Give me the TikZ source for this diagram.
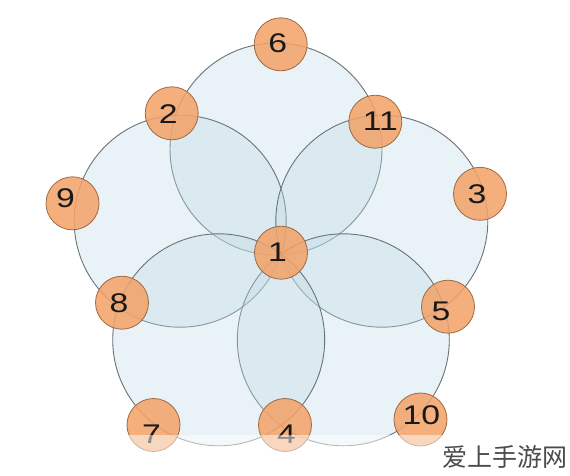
\documentclass[tikz,border=0pt]{standalone}
\usepackage{fontspec}
\usetikzlibrary{calc}
\setmainfont{Liberation Sans}
\newfontfamily\cjk{Noto Sans CJK SC}
\definecolor{petal}{RGB}{192,219,231}
\definecolor{petalline}{RGB}{105,115,120}
\definecolor{dotfill}{RGB}{243,162,104}
\definecolor{dotline}{RGB}{150,95,55}
\definecolor{wm}{RGB}{75,75,75}
\newcommand{\digtxt}[1]{\scalebox{1.25}[1]{#1}}
\tikzset{
  petalcircle/.style={fill=petal, fill opacity=0.34, draw=petalline, draw opacity=1, line width=0.9pt},
  numdot/.style={circle, minimum size=53pt, inner sep=0pt, fill=dotfill, fill opacity=0.86,
    draw=dotline, draw opacity=0.9, line width=0.8pt},
  numtext/.style={inner sep=0pt, text=black!90, font=\fontsize{27}{27}\selectfont},
}
\begin{document}
\begin{tikzpicture}[x=1pt,y=-1pt]
\useasboundingbox (0,0) rectangle (570,475);
\fill[white] (0,0) rectangle (570,475);
% circle centres
\coordinate (cT) at (276,149);
\coordinate (cUL) at (180.2,221.2);
\coordinate (cUR) at (381.8,221.2);
\coordinate (cLR) at (343.3,339.8);
\coordinate (cLL) at (218.7,339.8);
\foreach \c in {cT,cUL,cUR,cLR,cLL}{
  \path[petalcircle] (\c) circle [radius=106pt];
}
% numbered discs
\node[numdot] (n6) at (280.7,44.3) {};
\node[numdot] (n2) at (171.7,113.3) {};
\node[numdot] (n11) at (375.3,121.7) {};
\node[numdot] (n9) at (72.5,203.3) {};
\node[numdot] (n3) at (480,193.8) {};
\node[numdot] (n1) at (281,252.7) {};
\node[numdot] (n8) at (122,302.7) {};
\node[numdot] (n5) at (448,306.7) {};
\node[numdot] (n7) at (153.5,425) {};
\node[numdot] (n4) at (285,425) {};
\node[numdot] (n10) at (420.5,419.5) {};
% their numbers
\node[numtext] (t6) at ($(n6)+(-3,-1)$) {\digtxt{6}};
\node[numtext] (t2) at ($(n2)+(-3.5,0.5)$) {\digtxt{2}};
\node[numtext] (t11) at ($(n11)+(5,0)$) {\digtxt{11}};
\node[numtext] (t9) at ($(n9)+(-7,-5)$) {\digtxt{9}};
\node[numtext] (t3) at ($(n3)+(-3,0)$) {\digtxt{3}};
\node[numtext] (t1) at ($(n1)+(-3.5,0)$) {\digtxt{1}};
\node[numtext] (t8) at ($(n8)+(-3,0)$) {\digtxt{8}};
\node[numtext] (t5) at ($(n5)+(-7,5)$) {\digtxt{5}};
\node[numtext] (t7) at ($(n7)+(-2,9)$) {\digtxt{7}};
\node[numtext] (t4) at ($(n4)+(1.5,9)$) {\digtxt{4}};
\node[numtext] (t10) at ($(n10)+(1,-4.5)$) {\digtxt{10}};
% faded bottom band
\fill[white, opacity=0.5] (0,435) rectangle (570,475);
% watermark
\node[anchor=east, text=wm, inner sep=0pt, font=\cjk\fontsize{25}{25}\selectfont] (wmark) at (568,457) {爱上手游网};
\end{tikzpicture}
\end{document}
